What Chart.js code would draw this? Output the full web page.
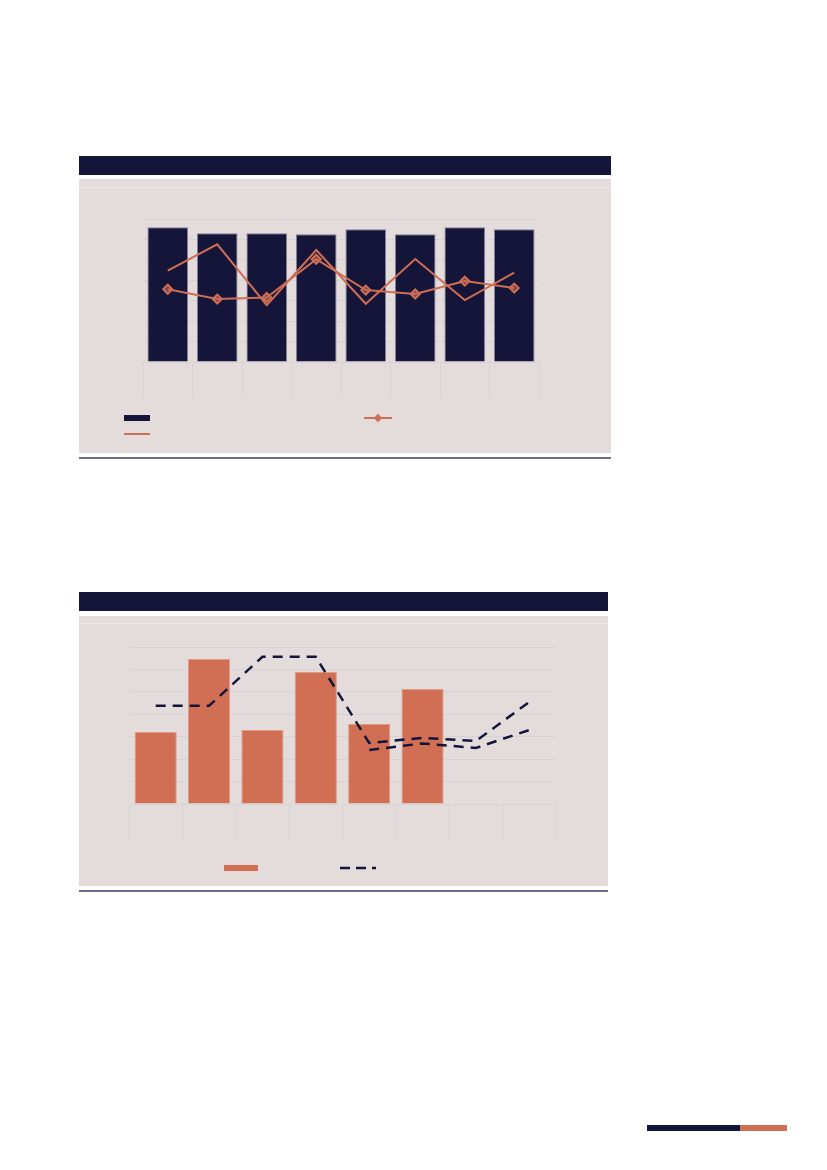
<!DOCTYPE html>
<html>
<head>
<meta charset="utf-8">
<script src="https://cdn.jsdelivr.net/npm/chart.js@4.4.0/dist/chart.umd.min.js"></script>
<style>
  html, body { margin: 0; padding: 0; background: #ffffff; }
  body { width: 827px; height: 1170px; position: relative; overflow: hidden; font-family: "Open Sans", sans-serif; }
  .abs { position: absolute; }
  .navy { background: #15153a; }
  .panel { background: #e3dcdb; }
  .rule { background: #6d6d8c; }
  .sheen { background: rgba(255,255,255,0.35); }
</style>
</head>
<body>
<script>
// ---------- Chart 1 data ----------
const categories1 = ['1', '2', '3', '4', '5', '6', '7', '8'];
const barValues1 = [6.6, 6.3, 6.3, 6.25, 6.5, 6.25, 6.6, 6.5];
const lineValues1 = [4.47, 5.76, 2.78, 5.48, 2.85, 5.04, 3.03, 4.37];
const markerLineValues1 = [3.56, 3.08, 3.16, 5.03, 3.52, 3.33, 3.96, 3.62];
const yTicks1 = [0, 1, 2, 3, 4, 5, 6, 7];

// ---------- Chart 2 data ----------
const categories2 = ['1', '2', '3', '4', '5', '6', '7', '8'];
const barValues2 = [3.21, 6.47, 3.30, 5.89, 3.57, 5.13, null, null];
const dashedUpper2 = [4.38, 4.38, 6.56, 6.56, 2.72, 2.95, 2.81, 4.55];
const dashedLower2 = [null, null, null, null, 2.41, 2.70, 2.50, 3.30];
const yTicks2 = [0, 1, 2, 3, 4, 5, 6, 7];
</script>

<!-- Chart 1 frame -->
<div class="abs navy" style="left:79px;top:156px;width:532px;height:19px;"></div>
<div class="abs panel" style="left:79px;top:179px;width:532px;height:274px;"></div>
<div class="abs sheen" style="left:79px;top:187px;width:532px;height:1px;"></div>
<div class="abs rule" style="left:79px;top:457px;width:532px;height:2px;"></div>
<div class="abs" style="left:133px;top:209px;width:416px;height:193px;"><canvas id="c1"></canvas></div>
<!-- Chart 1 legend symbols -->
<div class="abs navy" style="left:124px;top:415px;width:26px;height:6px;"></div>
<div class="abs" style="left:124px;top:433px;width:26px;height:2px;background:#cd6e55;"></div>
<div class="abs" style="left:364px;top:417px;width:28px;height:2px;background:#cd6e55;"></div>
<div class="abs" style="left:375px;top:415px;width:6px;height:6px;background:#cd6e55;transform:rotate(45deg);"></div>

<!-- Chart 2 frame -->
<div class="abs navy" style="left:79px;top:592px;width:529px;height:19px;"></div>
<div class="abs panel" style="left:79px;top:616px;width:529px;height:270px;"></div>
<div class="abs sheen" style="left:79px;top:623px;width:529px;height:1px;"></div>
<div class="abs rule" style="left:79px;top:890px;width:529px;height:2px;"></div>
<div class="abs" style="left:119px;top:637px;width:447px;height:208px;"><canvas id="c2"></canvas></div>
<!-- Chart 2 legend symbols -->
<div class="abs" style="left:224px;top:865px;width:34px;height:6px;background:#d06f54;"></div>
<svg class="abs" style="left:338px;top:864px;" width="42" height="8">
  <line x1="2" y1="4" x2="38" y2="4" stroke="#15153a" stroke-width="2.5" stroke-dasharray="10,6"/>
</svg>

<!-- page decoration -->
<div class="abs navy" style="left:647px;top:1125px;width:93px;height:6px;"></div>
<div class="abs" style="left:740px;top:1125px;width:47px;height:6px;background:#d06f54;"></div>

<script>
const NAVY = '#15153a';
const ORANGE = '#cd6e55';
const GRID = '#d5d3d6';

function baseScales(yTicks, tickLen) {
  return {
    x: {
      offset: true,
      grid: { display: true, drawOnChartArea: false, drawTicks: true, tickLength: tickLen, color: GRID, tickColor: GRID, offset: true },
      border: { display: true, color: GRID },
      ticks: { display: false }
    },
    y: {
      min: yTicks[0],
      max: yTicks[yTicks.length - 1],
      afterBuildTicks: (axis) => { axis.ticks = yTicks.map(v => ({ value: v })); },
      grid: { color: GRID, drawTicks: false },
      border: { display: false },
      ticks: { display: false }
    }
  };
}

new Chart(document.getElementById('c1'), {
  type: 'bar',
  data: {
    labels: categories1,
    datasets: [
      {
        type: 'line', data: lineValues1, borderColor: ORANGE, borderWidth: 2,
        pointRadius: 0, tension: 0, fill: false, order: 1
      },
      {
        type: 'line', data: markerLineValues1, borderColor: ORANGE, borderWidth: 2,
        pointStyle: 'rectRot', pointRadius: 4.5, pointBorderWidth: 2,
        pointBackgroundColor: 'rgba(205,110,85,0.55)', pointBorderColor: ORANGE,
        tension: 0, fill: false, order: 0
      },
      {
        type: 'bar', data: barValues1, backgroundColor: NAVY,
        borderColor: '#7f7f9c', borderWidth: 1,
        categoryPercentage: 1, barPercentage: 0.82, order: 2
      }
    ]
  },
  options: {
    responsive: true, maintainAspectRatio: false, animation: false,
    layout: { padding: { left: 10, right: 10, top: 10, bottom: 5 } },
    plugins: { legend: { display: false }, tooltip: { enabled: false } },
    scales: baseScales(yTicks1, 35)
  }
});

new Chart(document.getElementById('c2'), {
  type: 'bar',
  data: {
    labels: categories2,
    datasets: [
      {
        type: 'line', data: dashedUpper2, borderColor: NAVY, borderWidth: 2.5,
        borderDash: [10, 7], pointRadius: 0, tension: 0, fill: false, order: 0
      },
      {
        type: 'line', data: dashedLower2, borderColor: NAVY, borderWidth: 2.5,
        borderDash: [10, 7], pointRadius: 0, tension: 0, fill: false, order: 1
      },
      {
        type: 'bar', data: barValues2, backgroundColor: '#d06f54',
        borderColor: '#e29a83', borderWidth: 1,
        categoryPercentage: 1, barPercentage: 0.79, order: 2
      }
    ]
  },
  options: {
    responsive: true, maintainAspectRatio: false, animation: false,
    layout: { padding: { left: 10, right: 10, top: 10, bottom: 5 } },
    plugins: { legend: { display: false }, tooltip: { enabled: false } },
    scales: baseScales(yTicks2, 36)
  }
});
</script>
</body>
</html>
